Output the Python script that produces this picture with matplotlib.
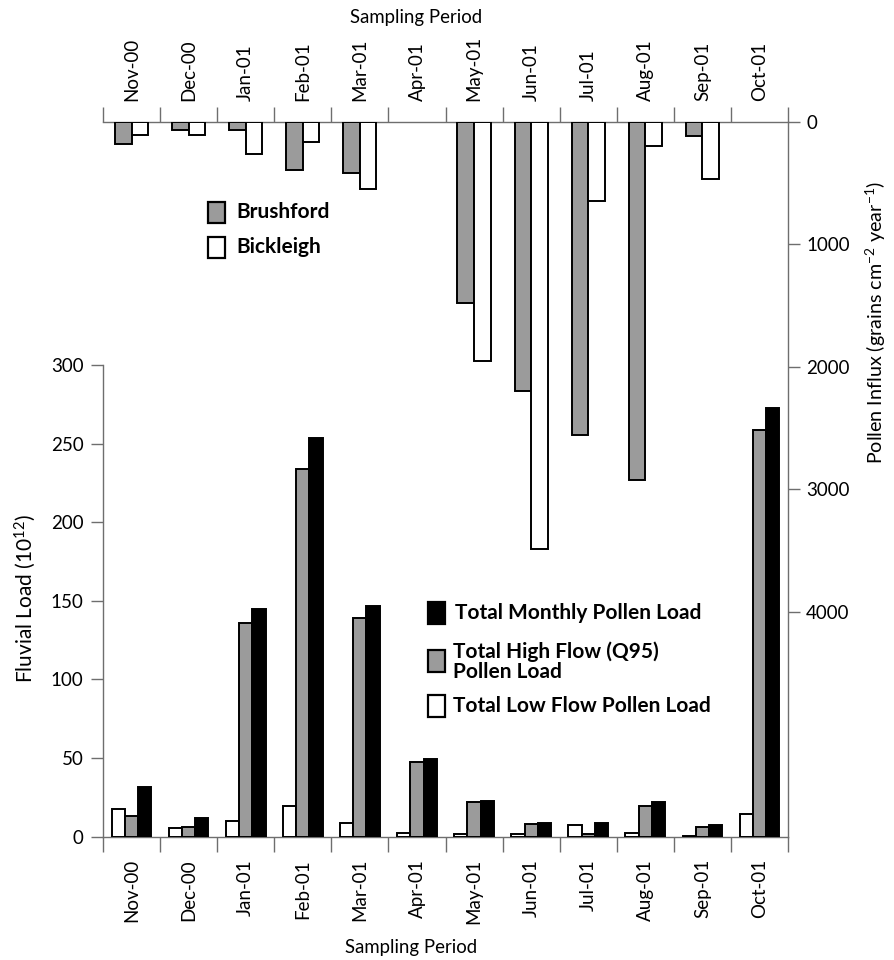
import numpy as np
import matplotlib
matplotlib.use("Agg")
import matplotlib.pyplot as plt
from matplotlib.patches import Rectangle

plt.rcParams['font.family'] = ['Lato', 'DejaVu Sans']
plt.rcParams['mathtext.fontset'] = 'custom'
plt.rcParams['mathtext.rm'] = 'Lato'
plt.rcParams['mathtext.it'] = 'Lato'
plt.rcParams['mathtext.bf'] = 'Lato:bold'

# ---------------- data ----------------
months = ['Nov-00', 'Dec-00', 'Jan-01', 'Feb-01', 'Mar-01', 'Apr-01',
          'May-01', 'Jun-01', 'Jul-01', 'Aug-01', 'Sep-01', 'Oct-01']
# Pollen influx (grains cm-2 year-1), upper panel (inverted)
brushford = [186, 68, 68, 391, 421, 0, 1476, 2201, 2554, 2921, 114, 0]
bickleigh = [109, 112, 262, 167, 549, 0, 1957, 3486, 644, 196, 467, 0]
# Fluvial load (10^12), lower panel
low_flow = [17.4, 5.3, 10.2, 19.7, 8.5, 2.5, 1.7, 1.7, 7.4, 2.5, 0.6, 14.4]
high_flow = [13.1, 6.4, 135.6, 233.9, 139.4, 47.2, 21.8, 7.8, 1.7, 19.5, 5.9, 258.5]
total_load = [31.4, 11.7, 144.9, 253.4, 146.6, 49.4, 22.7, 8.9, 8.9, 21.8, 7.4, 272.7]
left_ticks = [0, 50, 100, 150, 200, 250, 300]
right_ticks = [0, 1000, 2000, 3000, 4000]

W, H = 894, 960
fig = plt.figure(figsize=(W / 100, H / 100), dpi=100)

def fx(px):
    return px / W

def fy(py):
    return 1 - py / H

GREY = '#9b9b9b'
SPINE = '#6e6e6e'
x_left, x_right = 103, 788
y_zero, y_300, y_top0 = 836.7, 365.0, 121.7

ax_bot = fig.add_axes([fx(x_left), fy(y_zero), fx(x_right) - fx(x_left), fy(y_300) - fy(y_zero)])
ax_top = fig.add_axes([fx(x_left), fy(y_zero), fx(x_right) - fx(x_left), fy(y_top0) - fy(y_zero)])
ax_bot.patch.set_alpha(0)
ax_top.patch.set_alpha(0)

n = len(months)
x = np.arange(n)
bounds = np.arange(n + 1) - 0.5
LW = 1.4

# ---------- lower panel ----------
wb = 0.232
ax_bot.bar(x - wb, low_flow, wb, color='white', edgecolor='black', linewidth=LW, zorder=3)
ax_bot.bar(x, high_flow, wb, color=GREY, edgecolor='black', linewidth=LW, zorder=3)
ax_bot.bar(x + wb, total_load, wb, color='black', edgecolor='black', linewidth=LW, zorder=3)
ax_bot.set_xlim(-0.5, n - 0.5)
ax_bot.set_ylim(0, 300)
for s in ['top', 'right']:
    ax_bot.spines[s].set_visible(False)
for s in ['left', 'bottom']:
    ax_bot.spines[s].set_color(SPINE)
    ax_bot.spines[s].set_linewidth(1.0)
ax_bot.set_yticks(left_ticks)
ax_bot.set_yticklabels([str(v) for v in left_ticks])
ax_bot.tick_params(axis='y', direction='out', length=8.6, width=1.0, color=SPINE,
                   pad=5.5, labelsize=13.5)
ax_bot.set_xticks(bounds)
ax_bot.set_xticklabels([''] * len(bounds))
ax_bot.set_xticks(x, minor=True)
ax_bot.set_xticklabels(months, minor=True, rotation=90)
ax_bot.tick_params(axis='x', which='major', direction='out', length=10.5, width=1.0, color=SPINE)
ax_bot.tick_params(axis='x', which='minor', length=0, pad=16, labelsize=13.5)

# ---------- upper panel ----------
wt = 0.29
xa = np.array(x)
bf = np.array(brushford, dtype=float)
bk = np.array(bickleigh, dtype=float)
mb = bf > 0
mk = bk > 0
ax_top.bar(xa[mb] - wt / 2, bf[mb], wt, color=GREY, edgecolor='black', linewidth=LW, zorder=3)
ax_top.bar(xa[mk] + wt / 2, bk[mk], wt, color='white', edgecolor='black', linewidth=LW, zorder=3)
ax_top.set_xlim(-0.5, n - 0.5)
ymax_top = (y_zero - y_top0) / 122.5 * 1000
ax_top.set_ylim(ymax_top, 0)
for s in ['left', 'bottom']:
    ax_top.spines[s].set_visible(False)
for s in ['top', 'right']:
    ax_top.spines[s].set_color(SPINE)
    ax_top.spines[s].set_linewidth(1.0)
ax_top.xaxis.tick_top()
ax_top.yaxis.tick_right()
ax_top.set_yticks(right_ticks)
ax_top.set_yticklabels([str(v) for v in right_ticks])
ax_top.tick_params(axis='y', direction='out', length=8.6, width=1.0, color=SPINE,
                   pad=4.5, labelsize=13.5)
ax_top.set_xticks(bounds)
ax_top.set_xticklabels([''] * len(bounds))
ax_top.set_xticks(x, minor=True)
ax_top.set_xticklabels(months, minor=True, rotation=90)
ax_top.tick_params(axis='x', which='major', direction='out', length=10.5, width=1.0, color=SPINE,
                   top=True, bottom=False)
ax_top.tick_params(axis='x', which='minor', length=0, pad=15, labelsize=13.5, top=True, bottom=False)

# ---------- axis titles ----------
fig.text(fx(416), fy(17), 'Sampling Period', ha='center', va='center', fontsize=13.4)
fig.text(fx(411), fy(948), 'Sampling Period', ha='center', va='center', fontsize=13.4)
fig.text(fx(25), fy(599), 'Fluvial Load (10$^{12}$)', ha='center', va='center',
         rotation=90, fontsize=15)
fig.text(fx(876), fy(323), 'Pollen Influx (grains cm$^{-2}$ year$^{-1}$)', ha='center',
         va='center', rotation=90, fontsize=14.2)

# ---------- legends ----------
def key(px, py, w, h, fc):
    fig.patches.append(Rectangle((fx(px), fy(py + h)), w / W, h / H, transform=fig.transFigure,
                                 facecolor=fc, edgecolor='black', linewidth=1.6))

LF = 15
key(208, 202, 17, 21, GREY)
key(208, 237, 17, 21, 'white')
fig.text(fx(236), fy(212), 'Brushford', ha='left', va='center', fontsize=LF, fontweight='bold')
fig.text(fx(236), fy(247), 'Bickleigh', ha='left', va='center', fontsize=LF, fontweight='bold')

key(428, 602, 17, 22, 'black')
key(428, 650, 17, 22, GREY)
key(428, 695, 17, 22, 'white')
fig.text(fx(455), fy(613), 'Total Monthly Pollen Load', ha='left', va='center', fontsize=LF,
         fontweight='bold')
fig.text(fx(453), fy(662), 'Total High Flow (Q95)\nPollen Load', ha='left', va='center',
         fontsize=LF, fontweight='bold', linespacing=1.0)
fig.text(fx(453), fy(706), 'Total Low Flow Pollen Load', ha='left', va='center', fontsize=LF,
         fontweight='bold')

fig.savefig('out.png', dpi=100)
